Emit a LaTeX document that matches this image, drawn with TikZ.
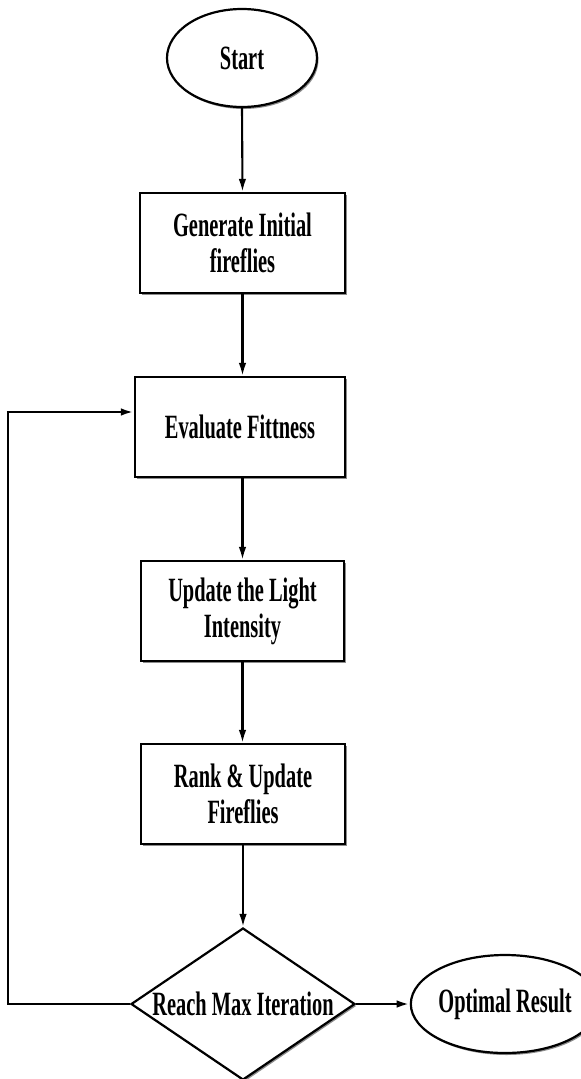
\documentclass[tikz,border=0pt]{standalone}
\usepackage{fontspec}
\newfontfamily\cf[FakeStretch=0.6]{Liberation Serif}
\usetikzlibrary{shapes.geometric,arrows.meta,shadows}
\begin{document}
\begin{tikzpicture}[x=1pt,y=-1pt,
  base/.style={draw=black, line width=2.2pt, fill=white, font=\cf\bfseries\fontsize{34}{36}\selectfont, align=center, inner sep=0pt,
    drop shadow={shadow xshift=1.5pt, shadow yshift=-2pt, fill=black!45, opacity=1}},
  procbox/.style={base, rectangle, minimum width=205pt, minimum height=100pt},
  term/.style={base, ellipse, minimum width=150pt, minimum height=98pt},
  decide/.style={base, diamond, aspect=1.47, minimum width=224pt, minimum height=152pt},
  conn/.style={draw=black, line width=2.1pt, -{Latex[length=13pt,width=7.5pt]}}
]
\useasboundingbox (0,0) rectangle (581,1079);
\node[term] (start) at (242,58) {Start};
\node[procbox] (gen) at (242.5,243) {Generate Initial\\fireflies};
\node[procbox, minimum width=210pt] (eval) at (240,427) {Evaluate Fittness};
\node[procbox, minimum width=203pt] (upd) at (242.5,611) {Update the Light\\Intensity};
\node[procbox, minimum width=204pt] (rank) at (243,794) {Rank \& Update\\Fireflies};
\node[decide] (dec) at (243,1004) {Reach Max Iteration};
\node[term, minimum width=147pt] (opt) at (505,1004) {Optimal Result};
\coordinate (lb) at (8,1004);
\coordinate (lt) at (8,412);
\draw[conn] (start.south) -- (gen.north);
\draw[conn] (gen.south) -- (eval.north -| gen.south);
\draw[conn] (eval.south -| gen.south) -- (upd.north -| gen.south);
\draw[conn] (upd.south -| gen.south) -- (rank.north -| gen.south);
\draw[conn] (rank.south) -- (dec.north);
\draw[conn, line width=2.8pt] (dec.east) -- (opt.west);
\draw[line width=2pt] (dec.west) -- (lb) -- (lt);
\draw[conn, line width=2.8pt] ([xshift=-1.2pt]lt) -- (lt -| eval.west);
\end{tikzpicture}
\end{document}
